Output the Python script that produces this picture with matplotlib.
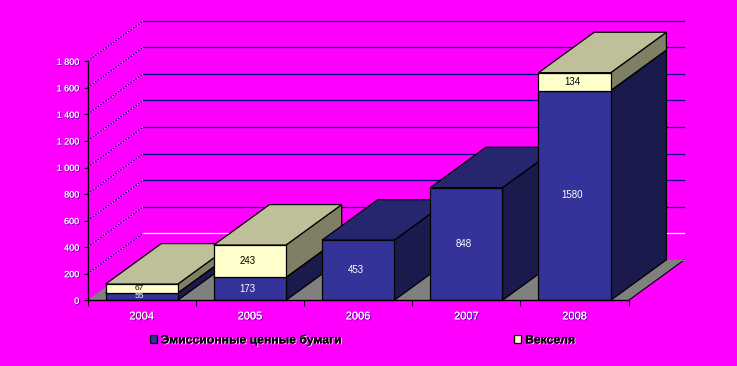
import matplotlib
matplotlib.use('Agg')
import matplotlib.pyplot as plt
import matplotlib.patheffects as pe
from matplotlib.patches import Polygon

plt.rcParams['font.family'] = ['Liberation Sans', 'DejaVu Sans']

years = ['2004', '2005', '2006', '2007', '2008']
securities = [55, 173, 453, 848, 1580]
bills = [67, 243, 0, 0, 134]
y_ticks = [0, 200, 400, 600, 800, 1000, 1200, 1400, 1600, 1800]
y_labels = ['0', '200', '400', '600', '800', '1 000', '1 200', '1 400', '1 600', '1 800']
series_names = ['Эмиссионные ценные бумаги', 'Векселя']

BG = '#FF00FF'
BLUE, BLUE_TOP, BLUE_SIDE = '#333399', '#26266F', '#1A1A4D'
CREAM, CREAM_TOP, CREAM_SIDE = '#FFFFCC', '#BFBF99', '#7F7F66'
FLOOR = '#808080'
NAVY = '#000080'

# depth of the fake 3d box, in data units
DX = 0.515
DY = 305
BAR_W = 0.667

W, H = 737, 366
fig = plt.figure(figsize=(W / 100, H / 100), dpi=100, facecolor=BG)
ax = fig.add_axes([87.5 / W, (H - 300.3) / H, 541.2 / W, 239 / H], facecolor='none')
ax.set_xlim(0, 5)
ax.set_ylim(0, 1800)

# floor
ax.add_patch(Polygon([(0, 0), (DX, DY), (5 + DX, DY), (5, 0)], closed=True, facecolor=FLOOR,
                     edgecolor='none', clip_on=False, zorder=1))
ax.plot([5, 5 + DX], [0, DY], color='black', lw=0.8, clip_on=False, zorder=1.5)
ax.plot([DX, 5 + DX], [DY, DY], color=FLOOR, lw=0.8, clip_on=False, zorder=1.5)

# gridlines on the side and back walls
for i, v in enumerate(y_ticks[1:]):
    back_color = 'white' if v == 200 else NAVY
    ax.plot([DX, 5 + DX], [v + DY, v + DY], color=back_color, lw=0.9, clip_on=False, zorder=1)
    ax.plot([0, DX], [v, v + DY], color=NAVY, lw=0.7, linestyle=(0, (2.2, 1.0)), gapcolor='white',
            clip_on=False, zorder=1)


def box(x, bottom, height, front, top, side, order):
    left = x - BAR_W / 2
    right = x + BAR_W / 2
    upper = bottom + height
    ax.add_patch(Polygon([(right, bottom), (right + DX, bottom + DY), (right + DX, upper + DY), (right, upper)],
                         closed=True, facecolor=side, edgecolor='black', lw=0.9, clip_on=False, zorder=order))
    ax.add_patch(Polygon([(left, upper), (left + DX, upper + DY), (right + DX, upper + DY), (right, upper)],
                         closed=True, facecolor=top, edgecolor='black', lw=0.9, clip_on=False, zorder=order))
    return ax.bar(x, height, BAR_W, bottom=bottom, color=front, edgecolor='black', lw=0.9,
                  clip_on=False, zorder=order + 0.1)


handles = [None, None]
for i in range(len(years)):
    order = 3 + i
    # the 2004 segments are too thin for the normal label size
    size = 6 if securities[i] < 100 else 7
    handles[0] = box(i + 0.5, 0, securities[i], BLUE, BLUE_TOP, BLUE_SIDE, order)
    ax.text(i + 0.48, securities[i] / 2, str(securities[i]), color='white', fontsize=size,
            ha='center', va='center', clip_on=False, zorder=order + 0.5)
    if bills[i] > 0:
        handles[1] = box(i + 0.5, securities[i], bills[i], CREAM, CREAM_TOP, CREAM_SIDE, order + 0.2)
        ax.text(i + 0.48, securities[i] + bills[i] / 2, str(bills[i]), color='black', fontsize=size,
                ha='center', va='center', clip_on=False, zorder=order + 0.5)

# axes
for name in ['top', 'right']:
    ax.spines[name].set_visible(False)
for name in ['left', 'bottom']:
    ax.spines[name].set_color('black')
    ax.spines[name].set_linewidth(1)
    ax.spines[name].set_zorder(20)

shadow = [pe.withSimplePatchShadow(offset=(0.6, -0.6), shadow_rgbFace=NAVY, alpha=0.8), pe.Normal()]

ax.set_yticks(y_ticks)
ax.set_yticklabels(y_labels, fontsize=6.5, color='white', path_effects=shadow)
ax.tick_params(axis='y', length=3, width=0.8, pad=3, color='black')

ax.set_xticks(range(6))
ax.set_xticklabels([])
ax.tick_params(axis='x', which='major', length=4, width=0.8, color='black')
ax.set_xticks([i + 0.5 for i in range(5)], minor=True)
ax.set_xticklabels(years, minor=True, fontsize=8, color='white', path_effects=shadow)
ax.tick_params(axis='x', which='minor', length=0, pad=8)

leg = fig.legend([handles[0], handles[1]], series_names, ncol=2, frameon=False, loc='center left',
                 bbox_to_anchor=(149.5 / W, (H - 340) / H), borderaxespad=0, borderpad=0,
                 handlelength=0.6, handleheight=0.6, handletextpad=0.3, columnspacing=14,
                 prop={'size': 8.8, 'weight': 'bold'})
for t in leg.get_texts():
    t.set_color('black')
    t.set_path_effects([pe.withSimplePatchShadow(offset=(0.7, -0.5), shadow_rgbFace='white', alpha=0.9), pe.Normal()])

fig.savefig('out.png', dpi=100, facecolor=BG)
